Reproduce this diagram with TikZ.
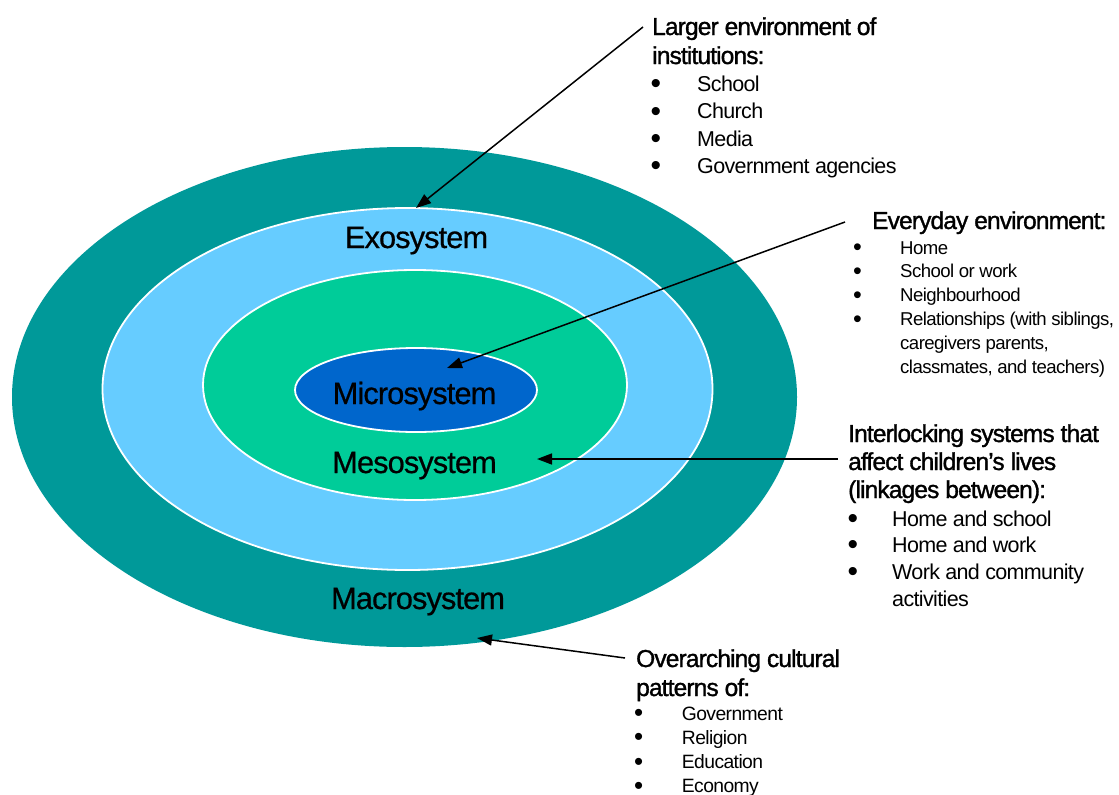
\documentclass[tikz,border=0pt]{standalone}
\usepackage{fontspec}
\setmainfont{Liberation Sans}[LetterSpace=-3]
\newfontfamily\hdrfont{Liberation Sans}[LetterSpace=-3.5, FakeBold=1.3]
\newfontfamily\lblfont{Liberation Sans}[LetterSpace=-3, FakeBold=0.6]
\usetikzlibrary{arrows.meta}
\definecolor{macroC}{HTML}{009999}
\definecolor{exoC}{HTML}{66CCFF}
\definecolor{mesoC}{HTML}{00CC99}
\definecolor{microC}{HTML}{0066CC}
\newcommand{\fsz}[2]{\fontsize{#1}{#2}\selectfont}
% #1 box width, #2 bullet font size, #3 lowering
\newcommand{\bul}[3]{\makebox[#1][l]{\smash{\raisebox{-#3}{\fontsize{#2}{#2}\selectfont\textbullet}}}}
\begin{document}
\begin{tikzpicture}[x=1pt,y=-1pt,
  arr/.style={-{Triangle[length=15pt,width=11pt]}, line width=1.5pt, black},
  ring/.style={draw=white, line width=1.8pt},
  lbl/.style={anchor=base, inner sep=0pt, font=\lblfont\fsz{30.8}{36}},
  txt/.style={anchor=base west, inner sep=0pt}]
\useasboundingbox (0,0) rectangle (1119,795);
\fill[white] (0,0) rectangle (1119,795);
% rings
\path[fill=macroC] (404.5,397) ellipse [x radius=392.5pt, y radius=250pt];
\path[ring, fill=exoC] (407.5,389) ellipse [x radius=305pt, y radius=181pt];
\path[ring, fill=mesoC] (415,385) ellipse [x radius=212pt, y radius=115pt];
\path[ring, fill=microC] (416,390) ellipse [x radius=121pt, y radius=42pt];
% labels
\node[lbl] (exo) at (416.5,248) {Exosystem};
\node[lbl] (micro) at (414.5,404) {Microsystem};
\node[lbl] (meso) at (414.5,473) {Mesosystem};
\node[lbl] (macro) at (418,609) {Macrosystem};
% exosystem text
\node[txt] (exoh) at (652,35) {\parbox[t]{300pt}{\hdrfont\fsz{24.5}{29}Larger environment of\\institutions:}};
\node[txt] (exoi) at (650.5,91.5) {\parbox[t]{300pt}{\fsz{21.5}{27.3}\bul{46.5pt}{30pt}{2.2pt}School\\\bul{46.5pt}{30pt}{2.2pt}Church\\\bul{46.5pt}{30pt}{2.2pt}Media\\\bul{46.5pt}{30pt}{2.2pt}Government agencies}};
% microsystem text
\node[txt] (evh) at (872,229) {\parbox[t]{300pt}{\hdrfont\fsz{24.5}{29}Everyday environment:}};
\node[txt] (evi) at (853,254) {\parbox[t]{300pt}{\fsz{18.6}{23.8}\bul{47pt}{25pt}{1.8pt}Home\\\bul{47pt}{25pt}{1.8pt}School or work\\\bul{47pt}{25pt}{1.8pt}Neighbourhood\\\bul{47pt}{25pt}{1.8pt}Relationships (with siblings,\\\hspace*{47pt}caregivers parents,\\\hspace*{47pt}classmates, and teachers)}};
% mesosystem text
\node[txt] (mesh) at (848,442) {\parbox[t]{300pt}{\hdrfont\fsz{24.5}{28}Interlocking systems that\\affect children’s lives\\(linkages between):}};
\node[txt] (mesi) at (847.3,526) {\parbox[t]{300pt}{\fsz{21.5}{26.7}\bul{44.7pt}{30pt}{2.2pt}Home and school\\\bul{44.7pt}{30pt}{2.2pt}Home and work\\\bul{44.7pt}{30pt}{2.2pt}Work and community\\\hspace*{44.7pt}activities}};
% macrosystem text
\node[txt] (mach) at (636,667) {\parbox[t]{300pt}{\hdrfont\fsz{24.5}{29}Overarching cultural\\patterns of:}};
\node[txt] (maci) at (634,720) {\parbox[t]{300pt}{\fsz{19.3}{24.1}\bul{47.7pt}{26pt}{1.8pt}Government\\\bul{47.7pt}{26pt}{1.8pt}Religion\\\bul{47.7pt}{26pt}{1.8pt}Education\\\bul{47.7pt}{26pt}{1.8pt}Economy}};
% arrow tips
\coordinate (exotip) at (416,208);
\coordinate (microtip) at (447,368);
\coordinate (mesotip) at (537,459);
\coordinate (macrotip) at (477,638);
% connectors
\draw[arr] ([shift={(-9,-8)}]exoh.base west) -- (exotip);
\draw[arr] ([shift={(-27,-7)}]evh.base west) -- (microtip);
\draw[arr] ([shift={(-10,17)}]mesh.base west) -- (mesotip);
\draw[arr] ([shift={(-11,-9)}]mach.base west) -- (macrotip);
\end{tikzpicture}
\end{document}
